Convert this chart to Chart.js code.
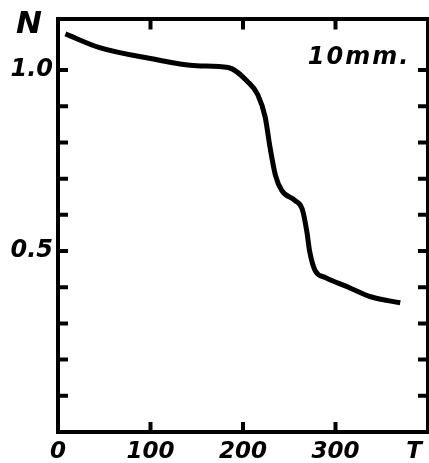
<!DOCTYPE html>
<html>
<head>
<meta charset="utf-8">
<script src="https://cdn.jsdelivr.net/npm/chart.js@4"></script>
<style>
  html, body { margin: 0; padding: 0; background: #fff; }
  #wrap { width: 429px; height: 463px; }
</style>
</head>
<body>
<div id="wrap"><canvas id="chart"></canvas></div>
<script>
// dữ liệu: N theo T (10mm.)
const tValues = [8, 45, 100, 150, 184, 205, 216, 224, 229, 235, 242, 256, 264, 269, 272, 278, 289, 314, 339, 370];
const nValues = [1.10, 1.062, 1.032, 1.012, 1.007, 0.968, 0.932, 0.87, 0.79, 0.71, 0.667, 0.64, 0.616, 0.554, 0.50, 0.446, 0.427, 0.40, 0.373, 0.357];

const xLabelValues = [0, 100, 200, 300];
const yLabelValues = [0.5, 1.0];
const xTickValues = [100, 200, 300];
const yTickValues = [0.1, 0.2, 0.3, 0.4, 0.5, 0.6, 0.7, 0.8, 0.9, 1.0];

const xMax = 400;
const yMax = 1.14;
const handFont = '"DejaVu Sans", sans-serif';

// vạch chia hướng vào trong + chữ viết tay
const innerTicks = {
    id: 'innerTicks',
    afterDraw(chart) {
        const ctx = chart.ctx;
        const area = chart.chartArea;
        const x = chart.scales.x;
        const y = chart.scales.y;
        const len = 10;
        ctx.save();
        ctx.strokeStyle = '#000';
        ctx.lineWidth = 4;
        ctx.lineCap = 'butt';
        ctx.beginPath();
        xTickValues.forEach(v => {
            const px = x.getPixelForValue(v);
            ctx.moveTo(px, area.bottom);
            ctx.lineTo(px, area.bottom - len);
            ctx.moveTo(px, area.top);
            ctx.lineTo(px, area.top + len);
        });
        yTickValues.forEach(v => {
            const py = y.getPixelForValue(v);
            ctx.moveTo(area.left, py);
            ctx.lineTo(area.left + len, py);
            ctx.moveTo(area.right, py);
            ctx.lineTo(area.right - len, py);
        });
        ctx.stroke();

        ctx.fillStyle = '#000';
        ctx.textAlign = 'center';
        ctx.textBaseline = 'middle';
        ctx.font = 'italic bold 31px ' + handFont;
        ctx.fillText('N', 29, 25);
        ctx.font = 'italic bold 23px ' + handFont;
        ctx.fillText('T', 414, 452);
        ctx.font = 'italic bold 24px ' + handFont;
        ctx.letterSpacing = '2px';
        ctx.fillText('10mm.', 359, 58);
        ctx.restore();
    }
};

new Chart(document.getElementById('chart'), {
    type: 'line',
    data: {
        datasets: [{
            data: tValues.map((t, i) => ({ x: t, y: nValues[i] })),
            borderColor: '#000',
            borderWidth: 5,
            pointRadius: 0,
            cubicInterpolationMode: 'monotone',
            fill: false
        }]
    },
    options: {
        responsive: true,
        maintainAspectRatio: false,
        animation: false,
        layout: { padding: 0 },
        plugins: {
            legend: { display: false },
            tooltip: { enabled: false }
        },
        scales: {
            x: {
                type: 'linear',
                position: 'bottom',
                min: 0,
                max: xMax,
                afterBuildTicks: s => { s.ticks = xLabelValues.map(v => ({ value: v })); },
                afterFit: s => { s.height = 31; },
                ticks: {
                    autoSkip: false,
                    maxRotation: 0,
                    padding: 6,
                    color: '#000',
                    font: { family: handFont, size: 23, style: 'italic', weight: 'bold' },
                    callback: v => String(v)
                },
                grid: { drawOnChartArea: false, drawTicks: false },
                border: { display: true, color: '#000', width: 4 }
            },
            x2: {
                type: 'linear',
                position: 'top',
                min: 0,
                max: xMax,
                afterFit: s => { s.height = 13; },
                ticks: { display: false },
                grid: { drawOnChartArea: false, drawTicks: false },
                border: { display: true, color: '#000', width: 4 }
            },
            y: {
                type: 'linear',
                position: 'left',
                min: 0,
                max: yMax,
                afterBuildTicks: s => { s.ticks = yLabelValues.map(v => ({ value: v })); },
                afterFit: s => { s.width = 58; },
                ticks: {
                    padding: 5,
                    color: '#000',
                    font: { family: handFont, size: 24, style: 'italic', weight: 'bold' },
                    callback: v => v.toFixed(1)
                },
                grid: { drawOnChartArea: false, drawTicks: false },
                border: { display: true, color: '#000', width: 4 }
            },
            y2: {
                type: 'linear',
                position: 'right',
                min: 0,
                max: yMax,
                afterFit: s => { s.width = 1; },
                ticks: { display: false },
                grid: { drawOnChartArea: false, drawTicks: false },
                border: { display: true, color: '#000', width: 4 }
            }
        }
    },
    plugins: [innerTicks]
});
</script>
</body>
</html>
